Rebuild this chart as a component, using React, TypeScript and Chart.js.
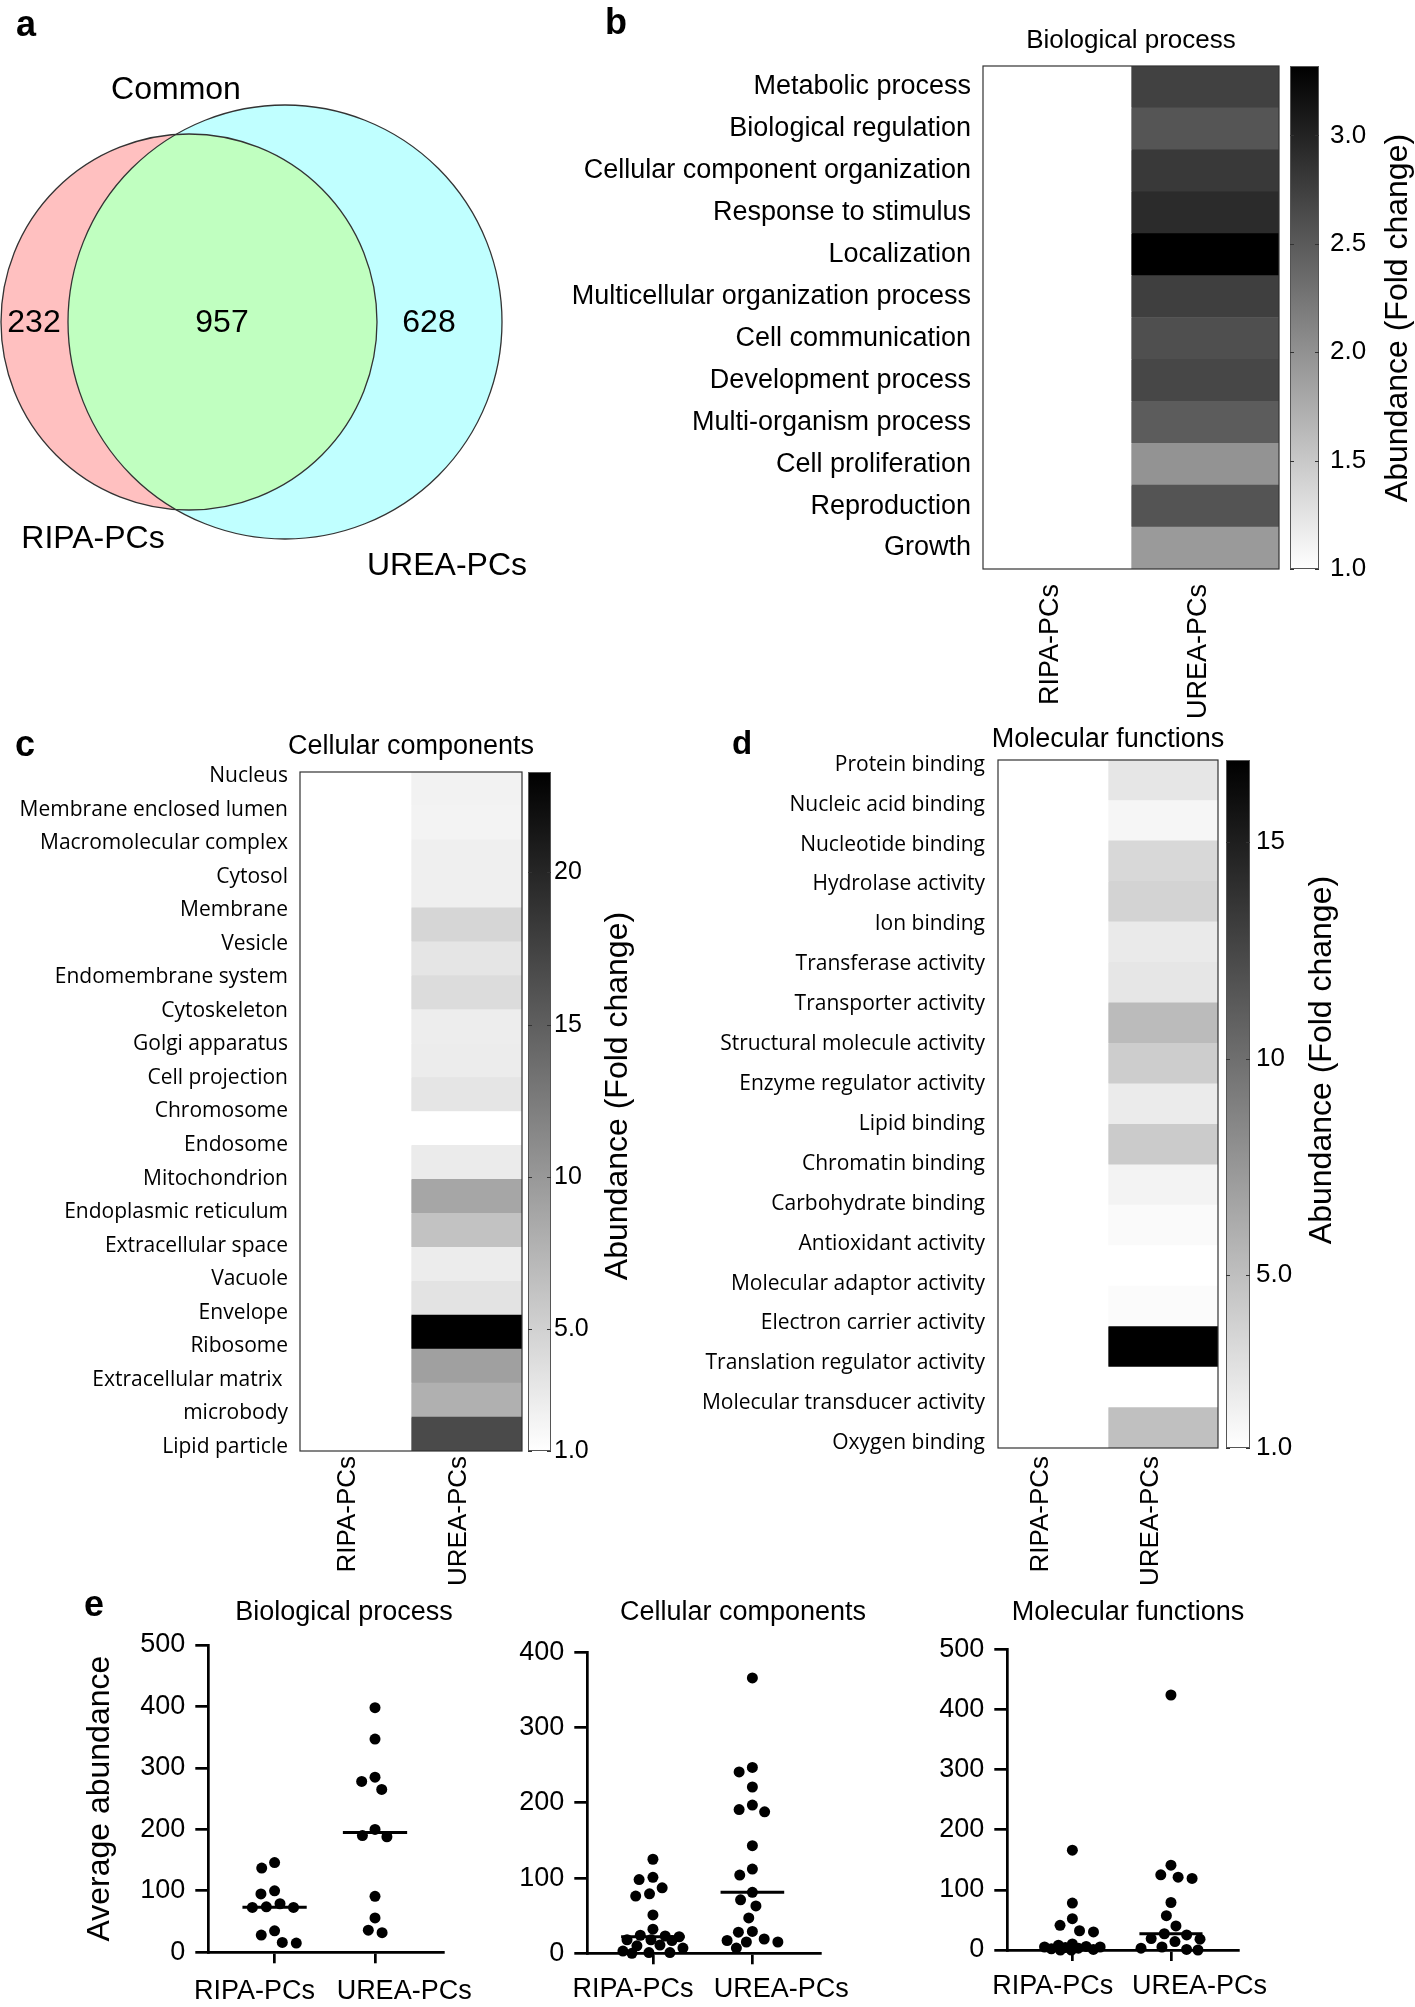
import React, { useEffect, useRef } from 'react';
import { Chart, registerables } from 'chart.js';

Chart.register(...registerables);

const SANS = '"Liberation Sans", Arial, Helvetica, sans-serif';
const HUMANIST = '"Open Sans", "Noto Sans", "DejaVu Sans", sans-serif';

Chart.defaults.color = '#000';
Chart.defaults.font.family = SANS;

// ---------------- data ----------------
const groupNames = ['RIPA-PCs', 'UREA-PCs'];

const vennCommonLabel = 'Common';
const vennCounts = [232, 957, 628]; // RIPA only, common, UREA only

const bpLabels = [
  'Metabolic process', 'Biological regulation', 'Cellular component organization',
  'Response to stimulus', 'Localization', 'Multicellular organization process',
  'Cell communication', 'Development process', 'Multi-organism process',
  'Cell proliferation', 'Reproduction', 'Growth',
];
const bpFoldRipa = [1, 1, 1, 1, 1, 1, 1, 1, 1, 1, 1, 1];
const bpFoldUrea = [2.73, 2.55, 2.8, 2.93, 3.32, 2.75, 2.6, 2.67, 2.48, 1.98, 2.56, 1.92];
const bpBarTicks = [1.0, 1.5, 2.0, 2.5, 3.0];
const bpBarMax = 3.32;

const ccLabels = [
  'Nucleus', 'Membrane enclosed lumen', 'Macromolecular complex', 'Cytosol', 'Membrane',
  'Vesicle', 'Endomembrane system', 'Cytoskeleton', 'Golgi apparatus', 'Cell projection',
  'Chromosome', 'Endosome', 'Mitochondrion', 'Endoplasmic reticulum', 'Extracellular space',
  'Vacuole', 'Envelope', 'Ribosome', 'Extracellular matrix ', 'microbody', 'Lipid particle',
];
const ccFoldRipa = [1, 1, 1, 1, 1, 1, 1, 1, 1, 1, 1, 1, 1, 1, 1, 1, 1, 1, 1, 1];
const ccFoldUrea = [2.14, 2.05, 2.4, 2.4, 4.59, 3.27, 4.06, 2.57, 2.66, 3.27, 1.0, 2.75, 8.78, 6.33, 2.66, 3.45, 23.3, 9.31, 7.91, 16.83];
const ccBarTicks = [1, 5, 10, 15, 20];
const ccBarMax = 23.3;

const mfLabels = [
  'Protein binding', 'Nucleic acid binding', 'Nucleotide binding', 'Hydrolase activity',
  'Ion binding', 'Transferase activity', 'Transporter activity', 'Structural molecule activity',
  'Enzyme regulator activity', 'Lipid binding', 'Chromatin binding', 'Carbohydrate binding',
  'Antioxidant activity', 'Molecular adaptor activity', 'Electron carrier activity',
  'Translation regulator activity', 'Molecular transducer activity', 'Oxygen binding',
];
const mfFoldRipa = [1, 1, 1, 1, 1, 1, 1, 1, 1, 1, 1, 1, 1, 1, 1, 1, 1];
const mfFoldUrea = [2.56, 1.56, 3.43, 3.74, 2.31, 2.56, 5.24, 4.12, 2.25, 4.24, 1.75, 1.31, 1.0, 1.25, 16.9, 1.0, 4.93];
const mfBarTicks = [1, 5, 10, 15];
const mfBarMax = 16.9;

const bpAbundRipa = [146, 137, 100, 95, 79, 74, 73, 73, 35, 28, 16, 15];
const bpAbundUrea = [398, 347, 285, 278, 265, 200, 190, 188, 91, 56, 36, 32];
const ccAbundRipa = [125, 101, 98, 87, 79, 76, 51, 32, 24, 23, 22, 18, 18, 17, 11, 10, 7, 3, 1, 1, 0];
const ccAbundUrea = [366, 247, 241, 221, 197, 191, 188, 143, 112, 104, 81, 71, 63, 47, 29, 28, 19, 17, 15, 15, 7];
const mfAbundRipa = [166, 78, 52, 41, 32, 30, 10, 8, 6, 5, 5, 4, 3, 2, 1, 0, 0];
const mfAbundUrea = [424, 141, 125, 121, 119, 79, 57, 40, 27, 25, 19, 18, 14, 5, 3, 1, 0];

// ---------------- helpers ----------------
type Box = { left: number; top: number; w: number; h: number };
type Area = { l: number; t: number; r: number; b: number };

function grey(v: number, max: number) {
  const t = Math.min(1, Math.max(0, (v - 1) / (max - 1)));
  const g = Math.round(255 * (1 - t));
  return `rgb(${g},${g},${g})`;
}
function barLabel(v: number) {
  return v < 10 ? v.toFixed(1) : String(Math.round(v));
}
function median(vals: number[]) {
  const s = [...vals].sort((a, b) => a - b);
  const n = s.length;
  return n % 2 ? s[(n - 1) / 2] : (s[n / 2 - 1] + s[n / 2]) / 2;
}
// beeswarm layout (pixel offsets): spacing d, limited to +-maxHalf; overflow packs where least crowded
function swarmOffsets(vals: number[], yPx: number, d: number, maxHalf: number): number[] {
  const order = vals.map((_, i) => i).sort((a, b) => vals[b] - vals[a]);
  const placed: { x: number; y: number }[] = [];
  const out = new Array(vals.length).fill(0);
  for (const i of order) {
    const y = vals[i] * yPx;
    const iv: [number, number][] = [];
    for (const p of placed) {
      const dy = Math.abs(p.y - y);
      if (dy < d) {
        const dx = Math.sqrt(d * d - dy * dy);
        iv.push([p.x - dx, p.x + dx]);
      }
    }
    const cands = [0];
    iv.forEach(([a, b]) => cands.push(a, b));
    cands.sort((a, b) => Math.abs(a) - Math.abs(b) || a - b);
    let x: number | null = null;
    for (const c of cands) {
      if (Math.abs(c) <= maxHalf + 1e-6 && iv.every(([a, b]) => c <= a + 1e-6 || c >= b - 1e-6)) { x = c; break; }
    }
    if (x === null) {
      let best = 0, bestD = -1;
      for (let c = -maxHalf; c <= maxHalf + 1e-6; c += 1) {
        let md = Infinity;
        for (const p of placed) md = Math.min(md, Math.hypot(p.x - c, p.y - y));
        if (md > bestD + 1e-9) { bestD = md; best = c; }
      }
      x = best;
    }
    placed.push({ x, y });
    out[i] = x;
  }
  return out;
}
function zeroPad(ax: any) {
  ax.paddingTop = 0; ax.paddingBottom = 0; ax.paddingLeft = 0; ax.paddingRight = 0;
}
const baseOpts = {
  animation: false as const,
  responsive: false,
  maintainAspectRatio: false,
  events: [] as any[],
};
const noGrid = { display: false, drawTicks: false, offset: false };

// ---------------- Venn ----------------
const vennSetsLabels = groupNames;
const vennGeom = {
  ripa: { cx: 189, cy: 322, r: 188 },
  urea: { cx: 285, cy: 322, r: 217 },
  numPos: [[34, 323], [222, 323], [429, 323]],
  commonPos: [176, 90],
  setLabelPos: [[93, 539], [447, 566]],
};

function makeVenn(canvas: HTMLCanvasElement, box: Box) {
  const plugin = {
    id: 'vennDraw',
    afterDraw(chart: any) {
      const { ctx } = chart;
      const sx = chart.scales.x, sy = chart.scales.y;
      const px = (x: number) => sx.getPixelForValue(x);
      const py = (y: number) => sy.getPixelForValue(y);
      const pr = (r: number) => sx.getPixelForValue(r) - sx.getPixelForValue(0);
      const circ = (c: { cx: number; cy: number; r: number }) => {
        ctx.beginPath();
        ctx.arc(px(c.cx), py(c.cy), pr(c.r), 0, Math.PI * 2);
      };
      const A = vennGeom.ripa, B = vennGeom.urea;
      ctx.save();
      circ(A); ctx.fillStyle = '#ffc0c0'; ctx.fill();
      circ(B); ctx.fillStyle = '#c0ffff'; ctx.fill();
      ctx.save();
      circ(A); ctx.clip();
      circ(B); ctx.fillStyle = '#c0ffc0'; ctx.fill();
      ctx.restore();
      ctx.lineWidth = 1.3; ctx.strokeStyle = '#333';
      circ(A); ctx.stroke();
      circ(B); ctx.stroke();
      ctx.fillStyle = '#000';
      ctx.font = `32px ${SANS}`;
      ctx.textAlign = 'center'; ctx.textBaseline = 'middle';
      vennCounts.forEach((n, i) => {
        const [x, y] = vennGeom.numPos[i];
        ctx.fillText(String(n), px(x), py(y));
      });
      ctx.fillText(vennCommonLabel, px(vennGeom.commonPos[0]), py(vennGeom.commonPos[1]));
      vennSetsLabels.forEach((t, i) => {
        const [x, y] = vennGeom.setLabelPos[i];
        ctx.fillText(t, px(x), py(y));
      });
      ctx.restore();
    },
  };
  return new Chart(canvas, {
    type: 'scatter',
    data: {
      datasets: [{
        data: [{ x: vennGeom.ripa.cx, y: vennGeom.ripa.cy }, { x: vennGeom.urea.cx, y: vennGeom.urea.cy }],
        pointRadius: 0,
      }],
    },
    options: {
      ...baseOpts,
      layout: { padding: 0 },
      plugins: { legend: { display: false }, tooltip: { enabled: false } },
      scales: {
        x: { type: 'linear', min: 0, max: box.w, display: false },
        y: { type: 'linear', min: 0, max: box.h, reverse: true, display: false },
      },
    } as any,
    plugins: [plugin],
  });
}

// ---------------- Heatmaps ----------------
type HeatSpec = {
  box: Box; area: Area;
  title: string; titleY: number; titleSize: number;
  labels: string[]; labelFamily: string; labelSize: number; labelPad: number;
  ripa: number[]; urea: number[];
  barMax: number; barTicks: number[];
  cbGap: number; cbW: number; cbLabelGap: number; cbFont: number;
  cbTitleX: number; cbTitleY: number;
  xPad: number; xFont: number; xShift: number;
};

function makeHeat(canvas: HTMLCanvasElement, s: HeatSpec) {
  const n = s.urea.length;
  const L = s.labels.length;
  const m = L === n ? 0.5 : 0.12;
  const plugin = {
    id: 'heatDecor',
    afterDraw(chart: any) {
      const { ctx, chartArea: a } = chart;
      const cb = chart.scales.cb;
      ctx.save();
      ctx.lineWidth = 1.2;
      ctx.strokeStyle = '#333';
      ctx.strokeRect(a.left, a.top, a.right - a.left, a.bottom - a.top);
      const x0 = a.right + s.cbGap;
      const yT = cb.getPixelForValue(s.barMax);
      const yB = cb.getPixelForValue(1);
      const grad = ctx.createLinearGradient(0, yB, 0, yT);
      grad.addColorStop(0, grey(1, s.barMax));
      grad.addColorStop(1, grey(s.barMax, s.barMax));
      ctx.fillStyle = grad;
      ctx.fillRect(x0, yT, s.cbW, yB - yT);
      ctx.lineWidth = 1;
      ctx.strokeStyle = '#555';
      ctx.strokeRect(x0 + 0.5, yT + 0.5, s.cbW - 1, yB - yT - 1);
      ctx.strokeStyle = '#333';
      s.barTicks.forEach((t) => {
        const y = Math.round(cb.getPixelForValue(t)) + 0.5;
        ctx.beginPath();
        ctx.moveTo(x0, y); ctx.lineTo(x0 + 4, y);
        ctx.moveTo(x0 + s.cbW - 4, y); ctx.lineTo(x0 + s.cbW, y);
        ctx.stroke();
      });
      ctx.fillStyle = '#000';
      ctx.textAlign = 'center';
      ctx.textBaseline = 'middle';
      ctx.font = `32px ${SANS}`;
      ctx.save();
      ctx.translate(s.cbTitleX, s.cbTitleY);
      ctx.rotate(-Math.PI / 2);
      ctx.fillText('Abundance (Fold change)', 0, 0);
      ctx.restore();
      ctx.font = `${s.titleSize}px ${SANS}`;
      ctx.fillText(s.title, (a.left + a.right) / 2, s.titleY);
      ctx.restore();
    },
  };
  const cellDs = (vals: number[], col: number, name: string) => ({
    label: name,
    data: vals.map(() => [col, col + 1]),
    backgroundColor: vals.map((v) => grey(v, s.barMax)),
    borderWidth: 0,
    grouped: false,
    barPercentage: 1,
    categoryPercentage: 1,
  });
  return new Chart(canvas, {
    type: 'bar',
    data: {
      labels: s.urea.map((_, i) => String(i)),
      datasets: [cellDs(s.ripa, 0, groupNames[0]), cellDs(s.urea, 1, groupNames[1])],
    },
    options: {
      ...baseOpts,
      indexAxis: 'y',
      layout: { padding: { top: s.area.t, left: 0, right: 0, bottom: 0 } },
      plugins: { legend: { display: false }, tooltip: { enabled: false } },
      scales: {
        x: {
          type: 'linear', min: 0, max: 2, position: 'bottom', offset: false,
          grid: noGrid, border: { display: false },
          afterBuildTicks: (ax: any) => { ax.ticks = groupNames.map((_, i) => ({ value: i + 0.5 })); },
          ticks: {
            autoSkip: false, minRotation: 90, maxRotation: 90, padding: s.xPad, labelOffset: s.xShift,
            font: { size: s.xFont, family: SANS }, color: '#000',
            callback: (_v: any, i: number) => groupNames[i],
          },
          afterFit: (ax: any) => { ax.height = s.box.h - s.area.b; zeroPad(ax); },
        },
        y: { type: 'category', display: false, offset: true },
        yl: {
          type: 'linear', position: 'left', reverse: true, min: -m, max: L - 1 + m, offset: false,
          grid: noGrid, border: { display: false },
          afterBuildTicks: (ax: any) => { ax.ticks = s.labels.map((_, i) => ({ value: i })); },
          ticks: {
            autoSkip: false, padding: s.labelPad,
            font: { size: s.labelSize, family: s.labelFamily }, color: '#000',
            callback: (_v: any, i: number) => s.labels[i],
          },
          afterFit: (ax: any) => { ax.width = s.area.l; zeroPad(ax); },
        },
        cb: {
          type: 'linear', position: 'right', min: 1, max: s.barMax, offset: false,
          grid: noGrid, border: { display: false },
          afterBuildTicks: (ax: any) => { ax.ticks = s.barTicks.map((v) => ({ value: v })); },
          ticks: {
            autoSkip: false, padding: s.cbGap + s.cbW + s.cbLabelGap,
            font: { size: s.cbFont, family: SANS }, color: '#000',
            callback: (v: any) => barLabel(Number(v)),
          },
          afterFit: (ax: any) => { ax.width = s.box.w - s.area.r; zeroPad(ax); },
        },
      },
    } as any,
    plugins: [plugin],
  });
}

// ---------------- Scatter (dot plots) ----------------
const X_MIN = -0.66;
const X_MAX = 1.68;
const xLabelShift = [-0.2, 0.29];

type ScatSpec = {
  box: Box; area: Area; ymax: number;
  title: string; titleX: number; titleY: number;
  ripa: number[]; urea: number[];
  labelY: number; yTitle?: string;
};

function makeScatter(canvas: HTMLCanvasElement, s: ScatSpec) {
  const aw = s.area.r - s.area.l;
  const ah = s.area.b - s.area.t;
  const xPx = aw / (X_MAX - X_MIN);
  const yPx = ah / s.ymax;
  const sets = [s.ripa, s.urea];
  const dots = sets.map((vals, gi) => {
    const off = swarmOffsets(vals, yPx, 14, 30);
    return {
      type: 'scatter',
      data: vals.map((v, i) => ({ x: gi + off[i] / xPx, y: v })),
      pointRadius: 5.5, pointBackgroundColor: '#000', pointBorderWidth: 0,
      showLine: false, clip: false,
    };
  });
  const meds = sets.map((vals, gi) => {
    const md = median(vals);
    return {
      type: 'line',
      data: [{ x: gi - 0.32, y: md }, { x: gi + 0.32, y: md }],
      borderColor: '#000', borderWidth: 3, pointRadius: 0, clip: false,
    };
  });
  const plugin = {
    id: 'scatTitle',
    afterDraw(chart: any) {
      const { ctx } = chart;
      ctx.save();
      ctx.fillStyle = '#000';
      ctx.font = `27px ${SANS}`;
      ctx.textAlign = 'center';
      ctx.textBaseline = 'middle';
      ctx.fillText(s.title, s.titleX, s.titleY);
      ctx.restore();
    },
  };
  const lblPad = s.labelY - (s.area.b + 11) - 13;
  return new Chart(canvas, {
    type: 'scatter',
    data: { datasets: [...dots, ...meds] as any },
    options: {
      ...baseOpts,
      layout: { padding: { top: s.area.t, right: s.box.w - s.area.r, left: 0, bottom: 0 } },
      plugins: { legend: { display: false }, tooltip: { enabled: false } },
      scales: {
        x: {
          type: 'linear', min: X_MIN, max: X_MAX, position: 'bottom', weight: 0, offset: false,
          afterBuildTicks: (ax: any) => { ax.ticks = [{ value: 0 }, { value: 1 }]; },
          grid: { drawOnChartArea: false, drawTicks: true, tickLength: 11, lineWidth: 2.7, color: '#000' },
          border: { display: true, width: 2.7, color: '#000' },
          ticks: { display: false },
          afterFit: (ax: any) => { ax.height = 11; zeroPad(ax); },
        },
        xl: {
          type: 'linear', min: X_MIN, max: X_MAX, position: 'bottom', weight: 1, offset: false,
          afterBuildTicks: (ax: any) => { ax.ticks = xLabelShift.map((d, i) => ({ value: i + d })); },
          grid: noGrid, border: { display: false },
          ticks: {
            autoSkip: false, maxRotation: 0, minRotation: 0, padding: lblPad,
            font: { size: 27, family: SANS }, color: '#000',
            callback: (_v: any, i: number) => groupNames[i],
          },
          afterFit: (ax: any) => { ax.height = s.box.h - s.area.b - 11; zeroPad(ax); },
        },
        y: {
          type: 'linear', min: 0, max: s.ymax, position: 'left', offset: false,
          grid: { drawOnChartArea: false, drawTicks: true, tickLength: 13, lineWidth: 2.7, color: '#000' },
          border: { display: true, width: 2.7, color: '#000' },
          ticks: { stepSize: 100, padding: 10, font: { size: 27, family: SANS }, color: '#000' },
          title: s.yTitle
            ? { display: true, text: s.yTitle, color: '#000', font: { size: 32, family: SANS, lineHeight: 1 }, padding: { top: 4, bottom: 0 } }
            : { display: false },
          afterFit: (ax: any) => { ax.width = s.area.l; zeroPad(ax); },
        },
      },
    } as any,
    plugins: [plugin],
  });
}

// ---------------- specs ----------------
const vennBox: Box = { left: 0, top: 0, w: 560, h: 600 };

const bpHeat: HeatSpec = {
  box: { left: 560, top: 0, w: 855, h: 730 }, area: { l: 423, t: 66, r: 719, b: 569 },
  title: 'Biological process', titleY: 41, titleSize: 26,
  labels: bpLabels, labelFamily: SANS, labelSize: 27, labelPad: 12,
  ripa: bpFoldRipa, urea: bpFoldUrea, barMax: bpBarMax, barTicks: bpBarTicks,
  cbGap: 11, cbW: 29, cbLabelGap: 11, cbFont: 26, cbTitleX: 838, cbTitleY: 318,
  xPad: 15, xFont: 27, xShift: -6,
};
const ccHeat: HeatSpec = {
  box: { left: 0, top: 720, w: 680, h: 880 }, area: { l: 300, t: 52, r: 522, b: 731 },
  title: 'Cellular components', titleY: 27, titleSize: 27,
  labels: ccLabels, labelFamily: HUMANIST, labelSize: 21, labelPad: 12,
  ripa: ccFoldRipa, urea: ccFoldUrea, barMax: ccBarMax, barTicks: ccBarTicks,
  cbGap: 6, cbW: 23, cbLabelGap: 3, cbFont: 25, cbTitleX: 618, cbTitleY: 376,
  xPad: 5, xFont: 26, xShift: -8,
};
const mfHeat: HeatSpec = {
  box: { left: 680, top: 720, w: 735, h: 880 }, area: { l: 318, t: 40, r: 538, b: 728 },
  title: 'Molecular functions', titleY: 20, titleSize: 27,
  labels: mfLabels, labelFamily: HUMANIST, labelSize: 21, labelPad: 13,
  ripa: mfFoldRipa, urea: mfFoldUrea, barMax: mfBarMax, barTicks: mfBarTicks,
  cbGap: 8, cbW: 24, cbLabelGap: 6, cbFont: 26, cbTitleX: 642, cbTitleY: 340,
  xPad: 8, xFont: 26, xShift: -12,
};

const bpDots: ScatSpec = {
  box: { left: 80, top: 1590, w: 420, h: 417 }, area: { l: 128.3, t: 55, r: 363.3, b: 362.3 }, ymax: 500,
  title: 'Biological process', titleX: 264, titleY: 23, ripa: bpAbundRipa, urea: bpAbundUrea,
  labelY: 398, yTitle: 'Average abundance',
};
const ccDots: ScatSpec = {
  box: { left: 500, top: 1590, w: 400, h: 417 }, area: { l: 87.3, t: 62.3, r: 320, b: 363.3 }, ymax: 400,
  title: 'Cellular components', titleX: 243, titleY: 23, ripa: ccAbundRipa, urea: ccAbundUrea,
  labelY: 396,
};
const mfDots: ScatSpec = {
  box: { left: 900, top: 1590, w: 415, h: 417 }, area: { l: 107.3, t: 59.3, r: 338, b: 360 }, ymax: 500,
  title: 'Molecular functions', titleX: 228, titleY: 23, ripa: mfAbundRipa, urea: mfAbundUrea,
  labelY: 393,
};

// ---------------- components ----------------
function ChartCanvas({ box, build }: { box: Box; build: (c: HTMLCanvasElement) => Chart }) {
  const ref = useRef<HTMLCanvasElement | null>(null);
  useEffect(() => {
    if (!ref.current) return;
    const ch = build(ref.current);
    return () => ch.destroy();
  }, []);
  return (
    <canvas
      ref={ref}
      width={box.w}
      height={box.h}
      style={{ position: 'absolute', left: box.left, top: box.top, width: box.w, height: box.h }}
    />
  );
}

const panelLetters = [
  { t: 'a', left: 16, top: 6, size: 36 },
  { t: 'b', left: 605, top: 4, size: 36 },
  { t: 'c', left: 15, top: 726, size: 36 },
  { t: 'd', left: 732, top: 726, size: 33 },
  { t: 'e', left: 84, top: 1586, size: 36 },
];

export default function App() {
  return (
    <div style={{ position: 'absolute', left: 0, top: 0, width: 1415, height: 2007, background: '#fff', overflow: 'hidden' }}>
      <ChartCanvas box={vennBox} build={(c) => makeVenn(c, vennBox)} />
      <ChartCanvas box={bpHeat.box} build={(c) => makeHeat(c, bpHeat)} />
      <ChartCanvas box={ccHeat.box} build={(c) => makeHeat(c, ccHeat)} />
      <ChartCanvas box={mfHeat.box} build={(c) => makeHeat(c, mfHeat)} />
      <ChartCanvas box={bpDots.box} build={(c) => makeScatter(c, bpDots)} />
      <ChartCanvas box={ccDots.box} build={(c) => makeScatter(c, ccDots)} />
      <ChartCanvas box={mfDots.box} build={(c) => makeScatter(c, mfDots)} />
      {panelLetters.map((p) => (
        <div
          key={p.t}
          style={{
            position: 'absolute', left: p.left, top: p.top, fontFamily: SANS, fontWeight: 'bold',
            fontSize: p.size, lineHeight: `${p.size}px`, color: '#000',
          }}
        >
          {p.t}
        </div>
      ))}
    </div>
  );
}
